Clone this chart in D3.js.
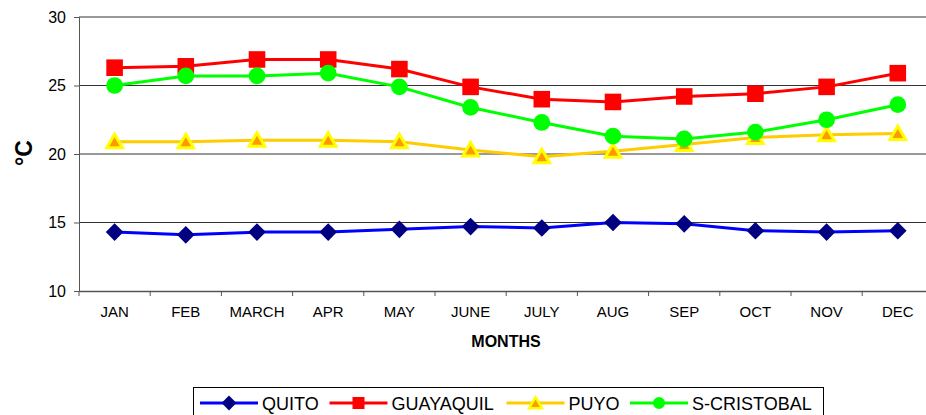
<!DOCTYPE html>
<html><head><meta charset="utf-8">
<script src="https://cdn.jsdelivr.net/npm/d3@7"></script>
<style>body{margin:0;background:#fff;} svg{display:block;font-family:"Liberation Sans",Arial,sans-serif;}</style>
</head><body>
<script>
const months = ["JAN","FEB","MARCH","APR","MAY","JUNE","JULY","AUG","SEP","OCT","NOV","DEC"];
const quito = [14.3,14.1,14.3,14.3,14.5,14.7,14.6,15.0,14.9,14.4,14.3,14.4];
const guayaquil = [26.3,26.4,26.9,26.9,26.2,24.9,24.0,23.8,24.2,24.4,24.9,25.9];
const puyo = [20.9,20.9,21.0,21.0,20.9,20.3,19.8,20.2,20.7,21.2,21.4,21.5];
const sCristobal = [25.0,25.7,25.7,25.9,24.9,23.4,22.3,21.3,21.1,21.6,22.5,23.6];
const yTicks = [10,15,20,25,30];
const seriesNames = ["QUITO","GUAYAQUIL","PUYO","S-CRISTOBAL"];

const W=926,H=415;
const svg=d3.select("body").append("svg").attr("width",W).attr("height",H);
const x=d3.scaleBand().domain(months).range([79,79+12*71.2]);
const y=d3.scaleLinear().domain([10,30]).range([291,17]);

// gridlines
svg.append("g").selectAll("line").data(yTicks.filter(t=>t>10)).join("line")
  .attr("x1",79).attr("x2",W).attr("y1",d=>y(d)).attr("y2",d=>y(d))
  .attr("stroke","#333").attr("stroke-width",1);

// y axis
const ya=svg.append("g").attr("transform","translate(79,0)").call(d3.axisLeft(y).tickValues(yTicks).tickSize(5).tickPadding(8));
ya.select(".domain").attr("stroke","#555");
ya.selectAll(".tick line").attr("stroke","#555");
ya.selectAll("text").attr("font-size","16px").attr("fill","#000");

// x axis
const xa=svg.append("g").attr("transform","translate(0,291)").call(d3.axisBottom(x).tickSize(0).tickPadding(15.5));
xa.select(".domain").attr("stroke","#555").attr("stroke-width",1.5);
xa.selectAll("text").attr("font-size","15px").attr("fill","#000");
svg.append("g").selectAll("line").data(d3.range(13)).join("line")
  .attr("x1",i=>x.range()[0]+i*x.step()).attr("x2",i=>x.range()[0]+i*x.step())
  .attr("y1",291).attr("y2",296).attr("stroke","#555");

svg.append("text").attr("x",506).attr("y",347).attr("text-anchor","middle")
  .attr("font-size","16px").attr("font-weight","bold").text("MONTHS");
svg.append("text").attr("transform","translate(32,153) rotate(-90)").attr("text-anchor","middle")
  .attr("font-size","23px").attr("font-weight","bold").text("°C");

const series=[
 {name:seriesNames[0],vals:quito,line:"#0000FF",shape:"diamond",fill:"#000080",stroke:"#000080",size:155},
 {name:seriesNames[1],vals:guayaquil,line:"#FF0000",shape:"square",fill:"#FF0000",stroke:"#FF0000",size:275},
 {name:seriesNames[2],vals:puyo,line:"#FFCC00",shape:"triangle",fill:"#FF9900",stroke:"#FFFF00",size:105},
 {name:seriesNames[3],vals:sCristobal,line:"#00FF00",shape:"circle",fill:"#00FF00",stroke:"#00FF00",size:220}
];
const legendSize=[110,144,70,113];
const symType={square:d3.symbolSquare,triangle:d3.symbolTriangle,circle:d3.symbolCircle};
function sym(s,size){
  if(s.shape==="diamond") return d3.symbol().type(d3.symbolSquare).size(size)();
  return d3.symbol().type(symType[s.shape]).size(size)();
}
const cx=m=>x(m)+x.bandwidth()/2;
const lineGen=d3.line().x((d,i)=>cx(months[i])).y(d=>y(d));
series.forEach(s=>{
  svg.append("path").attr("d",lineGen(s.vals)).attr("fill","none").attr("stroke",s.line).attr("stroke-width",3);
  svg.append("g").selectAll("path").data(s.vals).join("path")
    .attr("transform",(d,i)=>`translate(${cx(months[i])},${y(d)})`+(s.shape==="diamond"?" rotate(45)":"")+(s.shape==="triangle"?" translate(0,1.5)":""))
    .attr("d",sym(s,s.size)).attr("fill",s.fill).attr("stroke",s.stroke).attr("stroke-width",s.shape==="triangle"?3:0);
});

// legend
const lg=svg.append("g");
lg.append("rect").attr("x",193.5).attr("y",387.5).attr("width",630).attr("height",40).attr("fill","#fff").attr("stroke","#000");
const lx=[200,329.5,506.5,630];
series.forEach((s,i)=>{
  const g=lg.append("g").attr("transform",`translate(${lx[i]},403)`);
  g.append("line").attr("x1",0).attr("x2",58).attr("stroke",s.line).attr("stroke-width",3);
  g.append("path").attr("transform",`translate(29,${s.shape==="triangle"?1.5:0})`+(s.shape==="diamond"?" rotate(45)":""))
    .attr("d",sym(s,legendSize[i])).attr("fill",s.fill).attr("stroke",s.stroke).attr("stroke-width",s.shape==="triangle"?2.5:0);
  g.append("text").attr("x",62).attr("y",6.5).attr("font-size","18px").text(s.name);
});
</script>
</body></html>
